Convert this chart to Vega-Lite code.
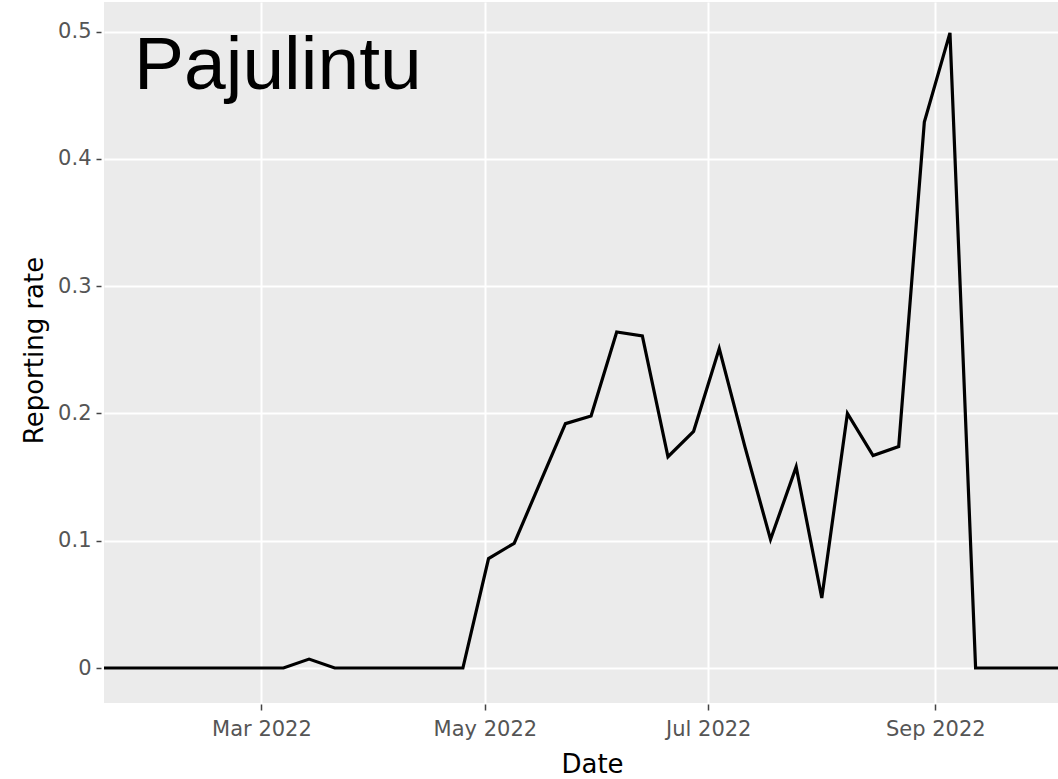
{
  "$schema": "https://vega.github.io/schema/vega-lite/v6.json",
  "autosize": {"type": "none"},
  "width": 954,
  "height": 701,
  "padding": {"left": 104, "top": 2, "right": 0, "bottom": 76},
  "background": "white",
  "title": {"text": "Pajulintu", "anchor": "start", "orient": "top", "frame": "group", "font": "Liberation Sans", "fontSize": 75, "fontWeight": "normal", "color": "black", "baseline": "alphabetic", "offset": 0, "dx": 30, "dy": 162},
  "config": {
    "view": {"fill": "#EBEBEB", "stroke": null},
    "axis": {"labelFont": "DejaVu Sans", "labelFontSize": 21, "labelColor": "#555555", "titleFont": "DejaVu Sans", "titleFontSize": 26, "titleFontWeight": "normal", "titleColor": "black", "gridColor": "white", "gridWidth": 2, "domain": false, "tickColor": "#444444", "tickWidth": 1.5}
  },
  "data": {"values": [
    {"date": "2022-01-17T00:00:00", "rate": 0},
    {"date": "2022-01-24T00:00:00", "rate": 0},
    {"date": "2022-01-31T00:00:00", "rate": 0},
    {"date": "2022-02-07T00:00:00", "rate": 0},
    {"date": "2022-02-14T00:00:00", "rate": 0},
    {"date": "2022-02-21T00:00:00", "rate": 0},
    {"date": "2022-02-28T00:00:00", "rate": 0},
    {"date": "2022-03-07T00:00:00", "rate": 0},
    {"date": "2022-03-14T00:00:00", "rate": 0.007},
    {"date": "2022-03-21T00:00:00", "rate": 0},
    {"date": "2022-03-28T00:00:00", "rate": 0},
    {"date": "2022-04-04T00:00:00", "rate": 0},
    {"date": "2022-04-11T00:00:00", "rate": 0},
    {"date": "2022-04-18T00:00:00", "rate": 0},
    {"date": "2022-04-25T00:00:00", "rate": 0},
    {"date": "2022-05-02T00:00:00", "rate": 0.086},
    {"date": "2022-05-09T00:00:00", "rate": 0.098},
    {"date": "2022-05-16T00:00:00", "rate": 0.145},
    {"date": "2022-05-23T00:00:00", "rate": 0.192},
    {"date": "2022-05-30T00:00:00", "rate": 0.198},
    {"date": "2022-06-06T00:00:00", "rate": 0.264},
    {"date": "2022-06-13T00:00:00", "rate": 0.261},
    {"date": "2022-06-20T00:00:00", "rate": 0.166},
    {"date": "2022-06-27T00:00:00", "rate": 0.186},
    {"date": "2022-07-04T00:00:00", "rate": 0.251},
    {"date": "2022-07-11T00:00:00", "rate": 0.174},
    {"date": "2022-07-18T00:00:00", "rate": 0.101},
    {"date": "2022-07-25T00:00:00", "rate": 0.158},
    {"date": "2022-08-01T00:00:00", "rate": 0.055},
    {"date": "2022-08-08T00:00:00", "rate": 0.2},
    {"date": "2022-08-15T00:00:00", "rate": 0.167},
    {"date": "2022-08-22T00:00:00", "rate": 0.174},
    {"date": "2022-08-29T00:00:00", "rate": 0.429},
    {"date": "2022-09-05T00:00:00", "rate": 0.499},
    {"date": "2022-09-12T00:00:00", "rate": 0},
    {"date": "2022-09-19T00:00:00", "rate": 0},
    {"date": "2022-09-26T00:00:00", "rate": 0},
    {"date": "2022-10-03T00:00:00", "rate": 0},
    {"date": "2022-10-10T00:00:00", "rate": 0}
  ]},
  "mark": {"type": "line", "color": "black", "strokeWidth": 3.2, "clip": true},
  "encoding": {
    "x": {"field": "date", "type": "temporal", "title": "Date",
      "scale": {"domain": ["2022-01-17T00:00:00", "2022-10-04T12:00:00"], "nice": false},
      "axis": {"format": "%b %Y", "tickCount": {"interval": "month", "step": 2}, "labelAngle": 0, "tickSize": 6, "offset": 1, "labelPadding": 8, "titlePadding": 12, "titleX": 488, "labelFlush": false, "labelOverlap": false}},
    "y": {"field": "rate", "type": "quantitative", "title": "Reporting rate",
      "scale": {"domain": [-0.0275, 0.5233], "nice": false, "zero": false},
      "axis": {"values": [0, 0.1, 0.2, 0.3, 0.4, 0.5], "format": "~g", "tickSize": 5, "offset": 3, "labelPadding": 5, "titlePadding": 10, "titleY": 348}}
  }
}
